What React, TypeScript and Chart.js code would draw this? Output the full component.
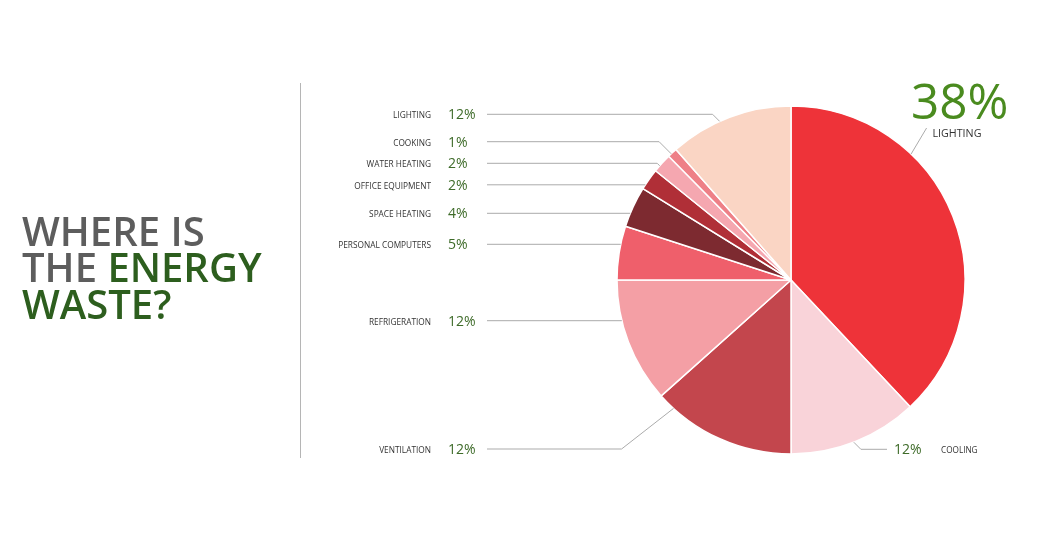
import React, { useEffect, useRef } from "react";
import { Chart, registerables } from "chart.js";

Chart.register(...registerables);

// ---- data ----
const categories = [
  "LIGHTING",
  "COOLING",
  "VENTILATION",
  "REFRIGERATION",
  "PERSONAL COMPUTERS",
  "SPACE HEATING",
  "OFFICE EQUIPMENT",
  "WATER HEATING",
  "COOKING",
  "LIGHTING",
];
const shares = [38, 12, 13.4, 11.6, 5, 3.8, 2, 1.8, 0.9, 11.5];
const shareLabels = ["38%", "12%", "12%", "12%", "5%", "4%", "2%", "2%", "1%", "12%"];
const sliceColors = [
  "#EE3339",
  "#F9D3D9",
  "#C3464D",
  "#F49FA5",
  "#EF5F6B",
  "#7D2A30",
  "#B02F37",
  "#F5A7B0",
  "#EE8087",
  "#FAD5C4",
];

// ---- layout of the callouts ----
const leaderY = [128, 449.3, 449, 320.7, 244.3, 213.3, 184.8, 163.3, 141.7, 114.3];
const anchorFrac: (number | null)[] = [0.319, 0.51, 0.88, null, null, null, null, 0.33, 0.35, 0.415];
const elbowRun = [1, 1, 1.28, 1, 1, 1, 1, 1, 1, 1];

const LEFT_LINE_X = 487;
const LEFT_TEXT_RIGHT = 431;
const LEFT_PCT_X = 448;

const calloutPlugin = {
  id: "callouts",
  afterDatasetsDraw(chart: any) {
    const ctx: CanvasRenderingContext2D = chart.ctx;
    const arcs = chart.getDatasetMeta(0).data;
    ctx.save();
    ctx.strokeStyle = "#ABABAB";
    ctx.lineWidth = 1;

    arcs.forEach((arc: any, i: number) => {
      const { x, y, startAngle, endAngle, outerRadius } = arc.getProps(
        ["x", "y", "startAngle", "endAngle", "outerRadius"],
        true
      );
      const ly = leaderY[i];
      let px: number, py: number;
      const f = anchorFrac[i];
      if (f === null) {
        const dy = ly - y;
        const side = Math.cos((startAngle + endAngle) / 2) < 0 ? -1 : 1;
        px = x + side * Math.sqrt(Math.max(outerRadius * outerRadius - dy * dy, 0));
        py = ly;
      } else {
        const a = startAngle + (endAngle - startAngle) * f;
        px = x + outerRadius * Math.cos(a);
        py = y + outerRadius * Math.sin(a);
      }

      if (i === 0) {
        ctx.beginPath();
        ctx.moveTo(px, py);
        ctx.lineTo(px + 15.5, ly);
        ctx.stroke();
        ctx.fillStyle = "#4A8B1F";
        ctx.font = "49.5px 'Open Sans'";
        ctx.textAlign = "left";
        ctx.textBaseline = "alphabetic";
        ctx.fillText(shareLabels[i], 911, 119);
        ctx.fillStyle = "#333333";
        ctx.font = "10.7px 'Open Sans'";
        ctx.fillText(categories[i], 932.5, 137);
        return;
      }

      const onRight = i === 1;
      const dyAbs = Math.abs(ly - py);
      if (onRight) {
        const ex = px + dyAbs * elbowRun[i];
        ctx.beginPath();
        ctx.moveTo(px, py);
        ctx.lineTo(ex, ly);
        ctx.lineTo(887, ly);
        ctx.stroke();
        ctx.fillStyle = "#3E6B29";
        ctx.font = "14px 'Open Sans'";
        ctx.textAlign = "left";
        ctx.textBaseline = "alphabetic";
        ctx.fillText(shareLabels[i], 894, ly + 4.5);
        ctx.fillStyle = "#333333";
        ctx.font = "8.2px 'Open Sans'";
        ctx.fillText(categories[i], 941, ly + 3.5);
        return;
      }

      const ex = px - dyAbs * elbowRun[i];
      ctx.beginPath();
      ctx.moveTo(LEFT_LINE_X, ly);
      ctx.lineTo(ex, ly);
      ctx.lineTo(px, py);
      ctx.stroke();

      ctx.fillStyle = "#3E6B29";
      ctx.font = "14px 'Open Sans'";
      ctx.textAlign = "left";
      ctx.textBaseline = "alphabetic";
      ctx.fillText(shareLabels[i], LEFT_PCT_X, ly + 5);

      ctx.fillStyle = "#333333";
      ctx.font = "8.3px 'Open Sans'";
      ctx.textAlign = "right";
      ctx.fillText(categories[i], LEFT_TEXT_RIGHT, ly + 4);
    });

    ctx.strokeStyle = "#B5B5B5";
    ctx.beginPath();
    ctx.moveTo(300.5, 83);
    ctx.lineTo(300.5, 458);
    ctx.stroke();
    ctx.restore();
  },
};

export default function App() {
  const ref = useRef<HTMLCanvasElement | null>(null);

  useEffect(() => {
    if (!ref.current) return;
    const chart = new Chart(ref.current, {
      type: "pie",
      data: {
        labels: categories,
        datasets: [
          {
            data: shares,
            backgroundColor: sliceColors,
            borderColor: "#FFFFFF",
            borderWidth: 1.5,
          },
        ],
      },
      options: {
        responsive: false,
        animation: false,
        radius: 174,
        layout: { padding: { left: 617, right: 75, top: 106, bottom: 86 } },
        plugins: {
          legend: { display: false },
          tooltip: { enabled: false },
          title: { display: false },
        },
        events: [],
      } as any,
      plugins: [calloutPlugin],
    });
    return () => chart.destroy();
  }, []);

  return (
    <div
      style={{
        position: "fixed",
        left: 0,
        top: 0,
        width: 1040,
        height: 540,
        background: "#FFFFFF",
      }}
    >
      <canvas ref={ref} width={1040} height={540} style={{ position: "absolute", left: 0, top: 0 }} />
      <div
        style={{
          position: "absolute",
          left: 22,
          top: 213,
          fontFamily: "'Open Sans', sans-serif",
          fontWeight: 600,
          fontSize: 40,
          lineHeight: "36.3px",
          color: "#5D5D5D",
          whiteSpace: "nowrap",
        }}
      >
        <div>WHERE IS</div>
        <div>
          THE <span style={{ color: "#2D5E1E" }}>ENERGY</span>
        </div>
        <div style={{ color: "#2D5E1E" }}>WASTE?</div>
      </div>
    </div>
  );
}
